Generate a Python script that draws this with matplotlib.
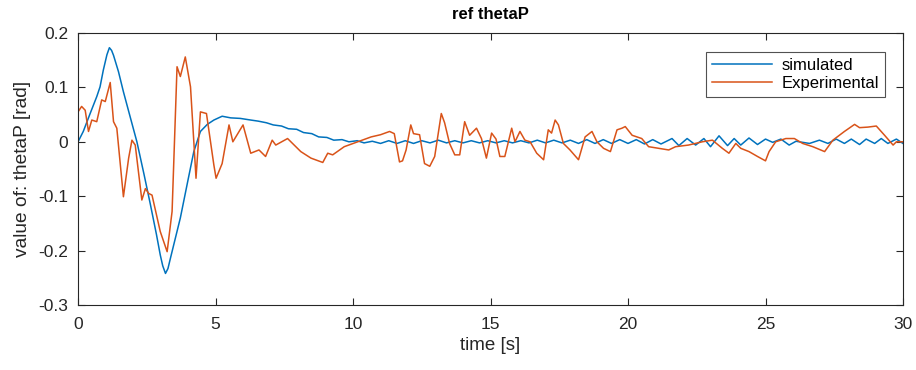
import matplotlib
matplotlib.use("Agg")
import matplotlib.pyplot as plt

# Simulated response (time [s], angle [rad])
sim_t = [0, 0.19, 0.44, 0.68, 0.8, 0.92, 1.05, 1.14, 1.22, 1.29, 1.47, 1.65, 1.9, 2.14, 2.4,
         2.63, 2.85, 2.99, 3.08, 3.18, 3.27, 3.36, 3.72, 4.0, 4.21, 4.45, 4.7, 4.94, 5.24,
         5.55, 5.9, 6.28,
         6.55, 6.85, 7.1, 7.4, 7.65, 7.95, 8.2, 8.5, 8.75, 9.05, 9.3, 9.6, 9.85, 10.15,
         10.4, 10.7, 11.0, 11.3, 11.6, 11.9, 12.2, 12.5, 12.8, 13.1, 13.4, 13.7, 14.0,
         14.3, 14.6, 14.9, 15.2, 15.5, 15.8, 16.1, 16.4, 16.7, 17.0, 17.3, 17.6, 17.9,
         18.2, 18.5, 18.8, 19.1, 19.4, 19.7, 20.0, 20.3, 20.6, 20.9, 21.2, 21.6, 21.85,
         22.15, 22.46, 22.76, 23.0, 23.31, 23.62, 23.86, 24.1, 24.4, 24.71, 25.0, 25.26,
         25.56, 25.86, 26.11, 26.35, 26.6, 26.96, 27.27, 27.57, 27.87, 28.12, 28.42,
         28.66, 28.97, 29.21, 29.45, 29.76, 30.0]
sim_v = [0, 0.019, 0.052, 0.083, 0.101, 0.132, 0.160, 0.173, 0.168, 0.159, 0.129, 0.092,
         0.045, 0.0, -0.06, -0.115, -0.17, -0.208, -0.228, -0.242, -0.233, -0.214, -0.14,
         -0.07, -0.018, 0.019, 0.032, 0.04, 0.047, 0.044, 0.043, 0.040,
         0.038, 0.035, 0.031, 0.029, 0.024, 0.023, 0.017, 0.015, 0.009, 0.008, 0.003,
         0.004, 0.000, 0.002,
         -0.002, 0.001, -0.003, 0.002, -0.003, 0.002, -0.003, 0.002, -0.002, 0.003,
         -0.002, 0.002, -0.002, 0.002, -0.002, 0.002, -0.002, 0.002, -0.002, 0.002,
         -0.002, 0.003, -0.002, 0.003, -0.002, 0.003, -0.003, 0.004, -0.003, 0.004,
         -0.003, 0.004, -0.003, 0.004, -0.004, 0.004, -0.004, 0.006, -0.007,
         0.006, -0.006, 0.006, -0.009, 0.011, -0.007, 0.006, -0.006, 0.007, -0.005,
         0.005, -0.001, 0.005, -0.006, 0.001, -0.001, -0.003, 0.003, -0.003, 0.005,
         -0.003, 0.005, -0.005, 0.005, -0.003, 0.006, -0.003, 0.005, -0.003]

# Experimental measurement (time [s], angle [rad])
exp_t = [0, 0.13, 0.26, 0.38, 0.5, 0.68, 0.86, 0.99, 1.17, 1.29, 1.41, 1.65, 1.84, 1.96,
         2.08, 2.32, 2.45, 2.57, 2.69, 2.99, 3.24, 3.42, 3.6, 3.72, 3.9, 4.09, 4.29, 4.45,
         4.67, 4.94, 5.02, 5.24, 5.49, 5.63, 6.0, 6.28, 6.58, 6.82, 7.06, 7.19, 7.62, 8.1,
         8.47, 8.9, 9.08, 9.26, 9.68, 10.17, 10.66, 11.0, 11.33, 11.5, 11.69, 11.8, 11.93,
         12.1, 12.2, 12.42, 12.6, 12.79, 12.97, 13.21, 13.33, 13.51, 13.7, 13.88, 14.06,
         14.24, 14.49, 14.67, 14.85, 15.04, 15.2, 15.34, 15.52, 15.77, 15.89, 16.07, 16.25,
         16.44, 16.68, 16.93, 17.1, 17.22, 17.35, 17.47, 17.65, 17.89, 18.2, 18.44, 18.69,
         18.87, 19.11, 19.36, 19.6, 19.78, 19.9, 20.15, 20.5, 20.75, 21.12, 21.48, 21.73,
         22.2, 22.7, 23.07, 23.43, 23.67, 23.92, 24.1, 24.4, 24.71, 25.0, 25.13, 25.37,
         25.74, 26.05, 26.35, 26.72, 27.15, 27.45, 27.87, 28.24, 28.42, 28.72, 29.03,
         29.33, 29.64, 29.76, 30.0]
exp_v = [0.055, 0.065, 0.058, 0.019, 0.04, 0.037, 0.077, 0.074, 0.109, 0.037, 0.025, -0.101,
         -0.03, 0.003, -0.006, -0.107, -0.086, -0.095, -0.098, -0.165, -0.202, -0.128,
         0.138, 0.12, 0.156, 0.101, -0.067, 0.055, 0.052, -0.043, -0.067, -0.04, 0.031,
         0.0, 0.031, -0.021, -0.015, -0.027, 0.003, -0.006, 0.006, -0.018, -0.03, -0.038,
         -0.021, -0.024, -0.009, 0.0, 0.009, 0.013, 0.019, 0.015, -0.037, -0.035, -0.015,
         0.031, 0.015, 0.013, -0.04, -0.045, -0.027, 0.052, 0.035, -0.003, -0.024, -0.024,
         0.037, 0.012, 0.025, 0.006, -0.03, 0.016, 0.005, -0.027, -0.027, 0.025, 0.0, 0.019,
         0.003, 0.0, -0.021, -0.033, 0.022, 0.016, 0.04, 0.031, -0.003, -0.015, -0.033,
         0.009, 0.019, 0.0, -0.012, -0.018, 0.022, 0.025, 0.028, 0.012, 0.006, -0.009,
         -0.012, -0.015, -0.009, -0.006, 0.0, 0.003, -0.012, -0.021, -0.003, -0.012,
         -0.018, -0.027, -0.035, -0.018, 0.0, 0.006, 0.006, -0.003, -0.009, -0.018, 0.003,
         0.019, 0.032, 0.026, 0.027, 0.029, 0.012, -0.006, 0.0, 0.0]

x_ticks = [0, 5, 10, 15, 20, 25, 30]
y_ticks = [-0.3, -0.2, -0.1, 0, 0.1, 0.2]
y_tick_labels = ["-0.3", "-0.2", "-0.1", "0", "0.1", "0.2"]

plt.rcParams["font.family"] = ["Liberation Sans", "DejaVu Sans"]
axis_color = "#262626"

fig = plt.figure(figsize=(9.16, 3.70), dpi=100)
ax = fig.add_axes([0.0852, 0.1757, 0.9006, 0.7351])

ax.plot(sim_t, sim_v, color="#0072BD", lw=1.1, label="simulated")
ax.plot(exp_t, exp_v, color="#D95319", lw=1.1, label="Experimental")

ax.set_xlim(0, 30)
ax.set_ylim(-0.3, 0.2)
ax.set_xticks(x_ticks)
ax.set_yticks(y_ticks)
ax.set_yticklabels(y_tick_labels)
ax.tick_params(direction="in", length=5, width=0.8, colors=axis_color,
               top=True, right=True, labelsize=12.5)
ax.tick_params(axis="x", pad=9)
ax.tick_params(axis="y", pad=7)
for s in ax.spines.values():
    s.set_color(axis_color)
    s.set_linewidth(0.8)

ax.set_title("ref thetaP", fontsize=12, fontweight="bold", color="black", pad=10)
ax.set_xlabel("time [s]", fontsize=13.5, color=axis_color, labelpad=3)
ax.set_ylabel("value of: thetaP [rad]", fontsize=13.8, color=axis_color, labelpad=5)

leg = ax.legend(loc="upper right", bbox_to_anchor=(0.978, 0.930), borderaxespad=0,
                fontsize=12, frameon=True, fancybox=False, edgecolor=axis_color,
                handlelength=3.6, borderpad=0.35, labelspacing=0.2, handletextpad=0.6)
leg.get_frame().set_linewidth(0.8)

fig.savefig("out.png", dpi=100)
